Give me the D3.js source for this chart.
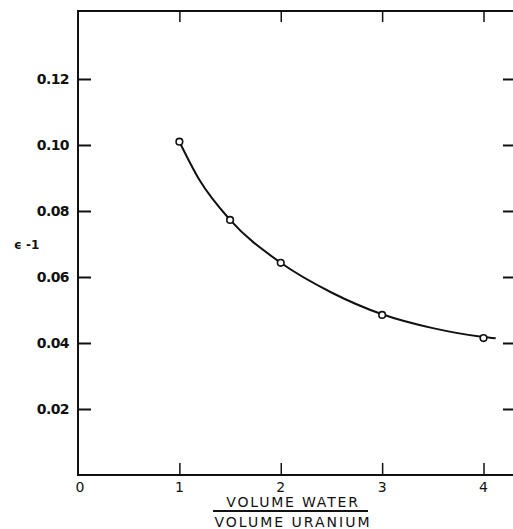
<!DOCTYPE html>
<html>
<head>
<meta charset="utf-8">
<script src="https://cdn.jsdelivr.net/npm/d3@7"></script>
<style>
  body { margin: 0; background: #fff; }
  text { font-family: "DejaVu Sans", sans-serif; fill: #111; }
</style>
</head>
<body>
<div id="chart"></div>
<script>
// Chart data
var ratioPoints = [1, 1.5, 2, 3, 4];
var epsPoints = [0.101, 0.0773, 0.0643, 0.0485, 0.0415];

// Hand-drawn fitted curve
var curveX = [1, 1.2, 1.5, 2, 2.5, 3, 3.5, 4, 4.12];
var curveY = [0.101, 0.0893, 0.0773, 0.0643, 0.0553, 0.0487, 0.0445, 0.0418, 0.0414];

var xTicks = [0, 1, 2, 3, 4];
var yTicks = [0.02, 0.04, 0.06, 0.08, 0.10, 0.12];

var svgWidth = 513;
var svgHeight = 529;

var svg = d3.select("#chart")
  .append("svg")
  .attr("width", svgWidth)
  .attr("height", svgHeight);

// Scales (right edge of the frame lies just outside the picture)
var x = d3.scaleLinear().domain([0, 4.35]).range([78, 519]);
var y = d3.scaleLinear().domain([0, 0.1406]).range([475, 11]);

var ink = "#111";

// Frame
svg.append("path")
  .attr("d", `M${x(4.35)},${y(0.1406)} H${x(0)} V${y(0)} H${x(4.35)}`)
  .attr("fill", "none")
  .attr("stroke", ink)
  .attr("stroke-width", 2);

// Left ticks + labels
var yAxisLeft = d3.axisRight(y).tickValues(yTicks).tickSize(13).tickFormat(d3.format(".2f"));
var gl = svg.append("g").attr("transform", `translate(${x(0)},0)`).call(yAxisLeft);
gl.select(".domain").remove();
gl.selectAll("line").attr("stroke", ink).attr("stroke-width", 2);
gl.selectAll("text")
  .attr("x", -9)
  .attr("text-anchor", "end")
  .attr("font-size", 14)
  .attr("font-weight", "bold")
  .attr("letter-spacing", -0.6)
  .attr("dy", "0.35em");

// Right ticks (no labels)
var gr = svg.append("g").attr("transform", `translate(${x(4.35)},0)`)
  .call(d3.axisLeft(y).tickValues(yTicks).tickSize(16).tickFormat(""));
gr.select(".domain").remove();
gr.selectAll("line").attr("stroke", ink).attr("stroke-width", 2);

// Bottom ticks (pointing up) + labels
var gb = svg.append("g").attr("transform", `translate(0,${y(0)})`)
  .call(d3.axisTop(x).tickValues([1, 2, 3, 4]).tickSize(12).tickFormat(""));
gb.select(".domain").remove();
gb.selectAll("line").attr("stroke", ink).attr("stroke-width", 1.5);

svg.selectAll(".xlab")
  .data(xTicks)
  .enter()
  .append("text")
  .attr("class", "xlab")
  .attr("x", d => x(d) + (d === 0 ? 2 : 0))
  .attr("y", y(0) + 17)
  .attr("text-anchor", "middle")
  .attr("font-size", 14)
  .text(d => d);

// Top ticks (pointing down)
var gt = svg.append("g").attr("transform", `translate(0,${y(0.1406)})`)
  .call(d3.axisBottom(x).tickValues([1, 2, 3, 4]).tickSize(11).tickFormat(""));
gt.select(".domain").remove();
gt.selectAll("line").attr("stroke", ink).attr("stroke-width", 1.5);

// Fitted curve
var line = d3.line()
  .x((d, i) => x(curveX[i]))
  .y((d, i) => y(curveY[i]))
  .curve(d3.curveMonotoneX);

svg.append("path")
  .datum(curveX)
  .attr("d", line)
  .attr("fill", "none")
  .attr("stroke", ink)
  .attr("stroke-width", 2);

// Data points
svg.selectAll(".pt")
  .data(ratioPoints)
  .enter()
  .append("circle")
  .attr("class", "pt")
  .attr("cx", d => x(d))
  .attr("cy", (d, i) => y(epsPoints[i]))
  .attr("r", 3.3)
  .attr("fill", "#fff")
  .attr("stroke", ink)
  .attr("stroke-width", 1.6);

// Y axis label
svg.append("text")
  .attr("x", 14)
  .attr("y", 249)
  .attr("font-size", 12)
  .attr("font-weight", "bold")
  .text("\u03F5 -1");

// X axis label as a fraction
var cx = 293;
svg.append("text")
  .attr("x", cx)
  .attr("y", 507)
  .attr("text-anchor", "middle")
  .attr("font-size", 14)
  .attr("letter-spacing", 1.8)
  .text("VOLUME WATER");

svg.append("line")
  .attr("x1", 213).attr("x2", 368)
  .attr("y1", 511).attr("y2", 511)
  .attr("stroke", ink)
  .attr("stroke-width", 2);

svg.append("text")
  .attr("x", cx)
  .attr("y", 527)
  .attr("text-anchor", "middle")
  .attr("font-size", 14)
  .attr("letter-spacing", 2)
  .text("VOLUME URANIUM");
</script>
</body>
</html>
